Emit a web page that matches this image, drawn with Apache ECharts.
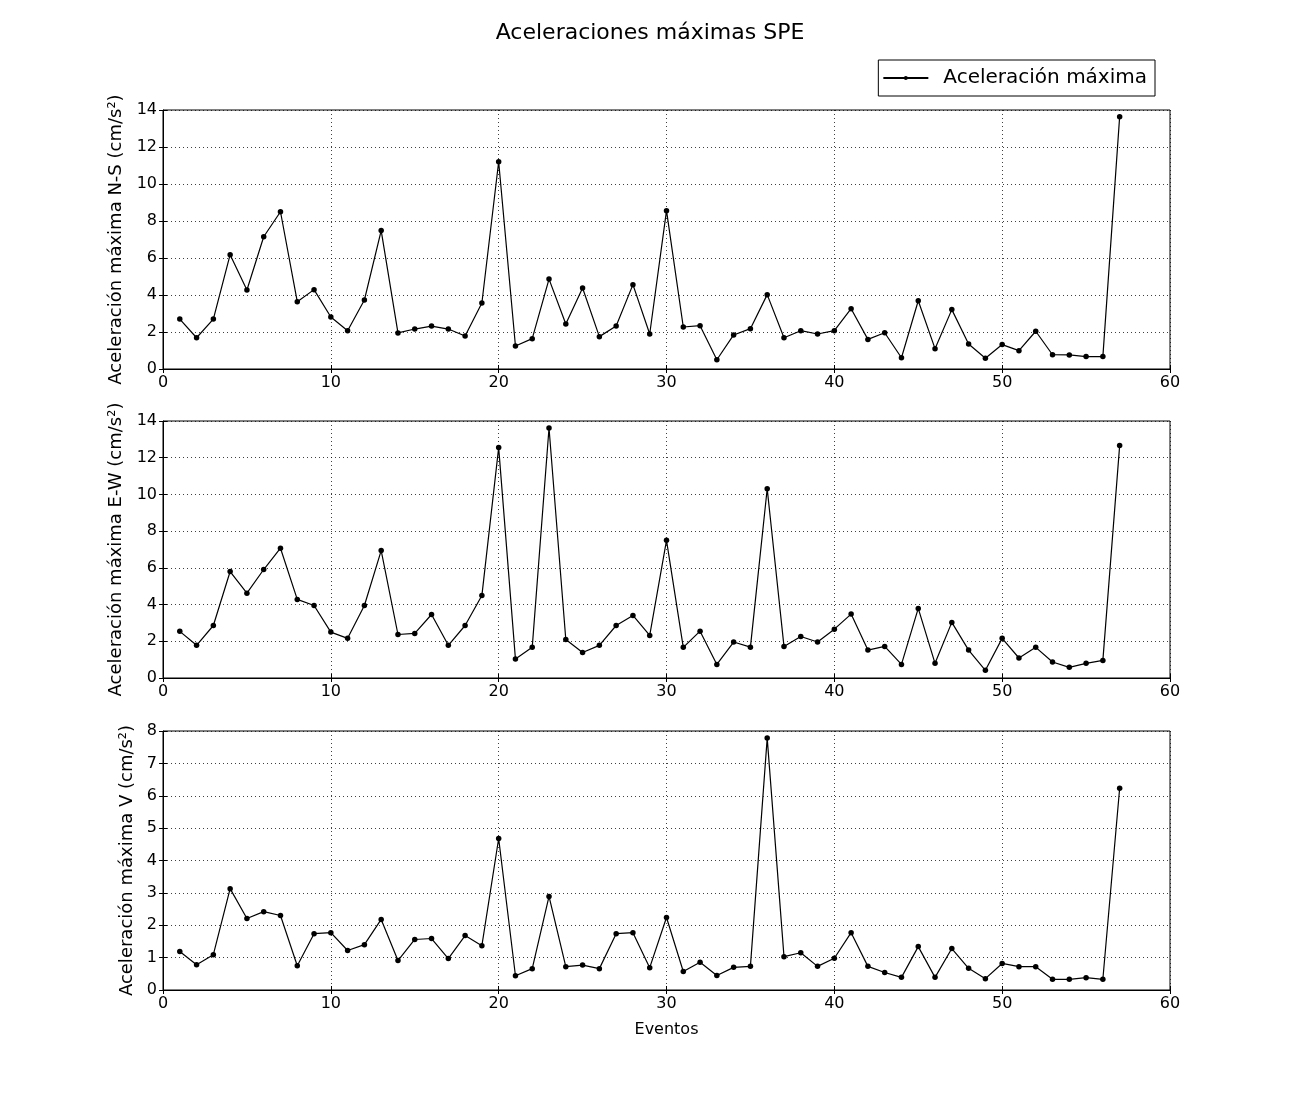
<!DOCTYPE html>
<html>
<head>
<meta charset="utf-8">
<script src="https://cdn.jsdelivr.net/npm/echarts@6/dist/echarts.min.js"></script>
<style>
html,body{margin:0;padding:0;background:#fff;}
#chart{width:1300px;height:1100px;}
</style>
</head>
<body>
<div id="chart"></div>
<script>
var eventos = [1,2,3,4,5,6,7,8,9,10,11,12,13,14,15,16,17,18,19,20,21,22,23,24,25,26,27,28,29,30,31,32,33,34,35,36,37,38,39,40,41,42,43,44,45,46,47,48,49,50,51,52,53,54,55,56,57];
var accNS = [2.70,1.69,2.70,6.18,4.27,7.15,8.50,3.64,4.29,2.81,2.07,3.73,7.48,1.95,2.16,2.32,2.16,1.78,3.57,11.20,1.24,1.64,4.86,2.43,4.38,1.75,2.32,4.56,1.89,8.56,2.27,2.34,0.50,1.84,2.18,4.02,1.69,2.07,1.89,2.07,3.26,1.60,1.96,0.61,3.69,1.10,3.21,1.35,0.58,1.32,0.99,2.04,0.77,0.76,0.67,0.67,13.64];
var accEW = [2.54,1.78,2.86,5.80,4.62,5.91,7.07,4.28,3.95,2.50,2.16,3.95,6.94,2.37,2.43,3.46,1.78,2.86,4.49,12.55,1.03,1.67,13.62,2.10,1.39,1.78,2.86,3.41,2.32,7.50,1.67,2.55,0.74,1.96,1.68,10.31,1.72,2.26,1.96,2.66,3.48,1.52,1.72,0.74,3.79,0.80,3.03,1.52,0.42,2.16,1.09,1.67,0.87,0.58,0.80,0.96,12.66];
var accV = [1.19,0.78,1.09,3.13,2.21,2.42,2.30,0.75,1.74,1.77,1.22,1.40,2.18,0.91,1.56,1.59,0.97,1.68,1.37,4.68,0.44,0.66,2.89,0.72,0.77,0.66,1.74,1.77,0.69,2.24,0.57,0.86,0.45,0.70,0.73,7.78,1.03,1.15,0.73,0.98,1.77,0.73,0.54,0.39,1.34,0.39,1.28,0.67,0.35,0.82,0.72,0.72,0.33,0.33,0.38,0.33,6.23];
var xTicks = [0,10,20,30,40,50,60];
var yTicksNS = [0,2,4,6,8,10,12,14];
var yTicksEW = [0,2,4,6,8,10,12,14];
var yTicksV = [0,1,2,3,4,5,6,7,8];
var yNames = ['Aceleración máxima N-S (cm/s²)','Aceleración máxima E-W (cm/s²)','Aceleración máxima V (cm/s²)'];
var seriesName = 'Aceleración máxima';
var titleText = 'Aceleraciones máximas SPE';
var xName = 'Eventos';

var FONT = 'DejaVu Sans';
function pairs(ys){ return eventos.map(function(x,i){ return [x, ys[i]]; }); }

var grids = [
  {left:163, right:130, top:110, height:259},
  {left:163, right:130, top:421, height:257},
  {left:163, right:130, top:731, height:259}
];
grids.forEach(function(g){ g.show = true; g.borderColor = '#000'; g.borderWidth = 1; g.backgroundColor = 'transparent'; });

var ySets = [yTicksNS, yTicksEW, yTicksV];
var data = [accNS, accEW, accV];
var nameGaps = [35, 35, 27];

var xAxes = [], yAxes = [], series = [];
for (var i = 0; i < 3; i++) {
  var yt = ySets[i];
  var yint = yt[1] - yt[0];
  xAxes.push({
    type:'value', gridIndex:i, min:xTicks[0], max:xTicks[xTicks.length-1], interval:xTicks[1]-xTicks[0],
    axisLine:{show:true, lineStyle:{color:'#000', width:1}},
    axisTick:{show:true, inside:true, length:4, lineStyle:{color:'#000'}},
    axisLabel:{color:'#000', fontFamily:FONT, fontSize:16, margin:6},
    splitLine:{show:true, lineStyle:{color:'#000', type:[1,3], width:1, opacity:0.75}},
    name: i === 2 ? xName : '', nameLocation:'middle', nameGap:32,
    nameTextStyle:{color:'#000', fontFamily:FONT, fontSize:16}
  });
  xAxes.push({
    type:'value', gridIndex:i, position:'top', min:xTicks[0], max:xTicks[xTicks.length-1], interval:xTicks[1]-xTicks[0],
    axisLine:{show:false}, axisTick:{show:true, inside:true, length:4, lineStyle:{color:'#000'}},
    axisLabel:{show:false}, splitLine:{show:false}
  });
  yAxes.push({
    type:'value', gridIndex:i, min:yt[0], max:yt[yt.length-1], interval:yint,
    axisLine:{show:true, lineStyle:{color:'#000', width:1}},
    axisTick:{show:true, inside:true, length:4, lineStyle:{color:'#000'}},
    axisLabel:{color:'#000', fontFamily:FONT, fontSize:16, margin:6},
    splitLine:{show:true, lineStyle:{color:'#000', type:[1,3], width:1, opacity:0.75}},
    name: yNames[i], nameLocation:'middle', nameGap:nameGaps[i], nameRotate:90,
    nameTextStyle:{color:'#000', fontFamily:FONT, fontSize:18}
  });
  yAxes.push({
    type:'value', gridIndex:i, position:'right', min:yt[0], max:yt[yt.length-1], interval:yint,
    axisLine:{show:false}, axisTick:{show:true, inside:true, length:4, lineStyle:{color:'#000'}},
    axisLabel:{show:false}, splitLine:{show:false}
  });
  series.push({
    name: seriesName, type:'line', xAxisIndex:i*2, yAxisIndex:i*2,
    data: pairs(data[i]),
    symbol:'circle', symbolSize:5.5, showAllSymbol:true,
    lineStyle:{color:'#000', width:1.2},
    itemStyle:{color:'#000'},
    animation:false
  });
}

var chart = echarts.init(document.getElementById('chart'), null, {renderer:'canvas'});
chart.setOption({
  backgroundColor:'#fff',
  animation:false,
  title:{text:titleText, left:'center', top:17, textStyle:{fontFamily:FONT, fontSize:22, fontWeight:'normal', color:'#000'}},
  legend:{
    data:[seriesName], right:145, top:60, orient:'horizontal',
    borderColor:'#000', borderWidth:1, borderRadius:0, padding:[8,8,8,4],
    itemWidth:45, itemHeight:5,
    textStyle:{fontFamily:FONT, fontSize:20, color:'#000', padding:[0,0,0,10]},
    selectedMode:false
  },
  grid: grids,
  xAxis: xAxes,
  yAxis: yAxes,
  series: series
});
</script>
</body>
</html>
